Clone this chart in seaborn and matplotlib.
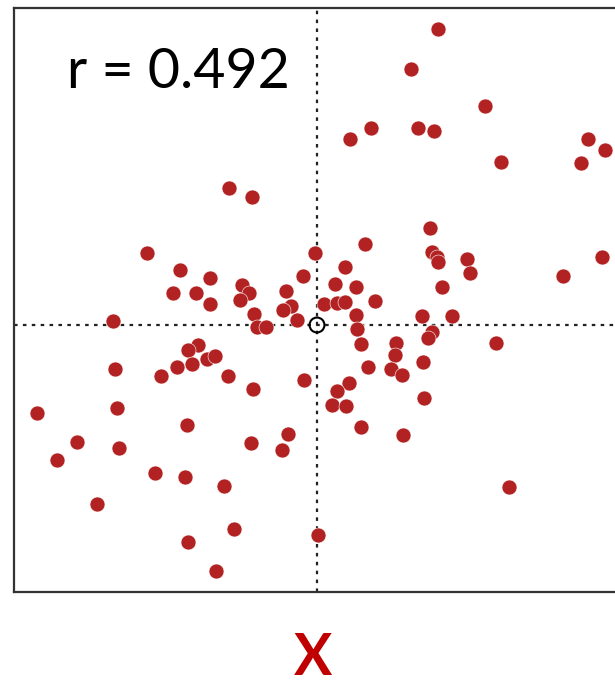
import matplotlib
matplotlib.use("Agg")
import matplotlib.pyplot as plt
import seaborn as sns
import pandas as pd
import numpy as np

x_vals = [1.21, 0.94, 1.68, 0.54, 0.33, 1.01, 1.17, 1.84, 2.71, 2.88, 2.64, 1.13, 0.48, -0.02,
          1.15, 1.20, 1.21, 1.50, 1.53, 2.85, 2.46, -0.14, 0.28, 0.18, 0.39, 1.25, 0.58, 0.07,
          0.20, 0.28, 0.39, 1.05, 1.35, -0.20, 0.40, 1.15, 1.11, 1.79, 0.44, 0.79, 0.78, 0.51,
          1.06, 0.74, 0.85, -0.13, 0.32, 0.20, 0.15, 0.29, 1.07, 0.44, 0.86, 1.92, 0.01,
          -0.88, -0.65, -1.70, -1.37, -1.07, -0.75, -0.68, -0.77, -1.44, -1.21, -1.07, -0.31,
          -0.26, -0.34, -0.63, -2.04, -0.60, -0.51,
          -1.19, -1.29, -1.10, -1.02, -1.25, -1.40, -1.56, -0.89, -0.64, -2.02, -2.80, -2.00,
          -2.40, -1.98, -2.60, -1.30, -0.66, -0.29, -0.35, -1.62, -1.32, -0.93, -2.20, -0.83,
          -1.29, -1.01]
y_vals = [2.96, 2.56, 2.19, 1.97, 1.86, 1.97, 1.94, 1.63, 1.86, 1.75, 1.62, 0.97, 0.81, 0.72,
          0.73, 0.68, 0.63, 0.66, 0.52, 0.68, 0.49, 0.49, 0.58, 0.41, 0.38, 0.38, 0.24, 0.21,
          0.22, 0.23, 0.10, 0.09, 0.09, 0.05, -0.04, -0.07, -0.13, -0.18, -0.19, -0.18, -0.30, -0.42,
          -0.37, -0.44, -0.50, -0.55, -0.58, -0.66, -0.80, -0.81, -0.73, -1.02, -1.10, -1.62, -2.10,
          1.37, 1.28, 0.72, 0.55, 0.47, 0.40, 0.32, 0.25, 0.32, 0.32, 0.21, 0.34,
          0.19, 0.15, 0.11, 0.04, -0.02, -0.02,
          -0.20, -0.25, -0.34, -0.31, -0.39, -0.42, -0.51, -0.51, -0.64, -0.44, -0.88, -0.83,
          -1.17, -1.23, -1.35, -1.00, -1.18, -1.09, -1.25, -1.48, -1.52, -1.61, -1.79, -2.04,
          -2.17, -2.46]
mean_x = [0.0]
mean_y = [0.0]
r_label = "r = 0.492"
x_label = "X"

df = pd.DataFrame({"x": x_vals, "y": y_vals})

sns.set_style("white")
plt.rcParams['font.family'] = ['Lato', 'DejaVu Sans']

fig = plt.figure(figsize=(6.15, 6.84), dpi=100)
ax = fig.add_axes([14/615, 92/684, 606/615, 584/684])

ax.axvline(0, color="#222222", lw=1.6, ls=(0, (1.6, 2.4)), zorder=1)
ax.axhline(0, color="#222222", lw=1.6, ls=(0, (1.6, 2.4)), zorder=1)

sns.scatterplot(data=df, x="x", y="y", ax=ax, color="#B22222", s=116,
                edgecolor="white", linewidth=0.4, zorder=3, legend=False)
ax.scatter(mean_x, mean_y, s=115, facecolor="none", edgecolor="black",
           linewidth=1.5, zorder=4)

ax.set_xlim(-3.03, 3.03)
ax.set_ylim(-2.67, 3.17)
ax.set_xticks([])
ax.set_yticks([])
ax.set_xlabel("")
ax.set_ylabel("")
for sp in ax.spines.values():
    sp.set_color("#333333")
    sp.set_linewidth(1.6)

fig.text(67/615, (684-88)/684, r_label, fontsize=40, color="black",
         ha="left", va="baseline")
fig.text(313/615, (684-675)/684, x_label, fontsize=41, color="#C00000",
         fontweight="bold", ha="center", va="baseline")

fig.savefig("out.png", dpi=100)
